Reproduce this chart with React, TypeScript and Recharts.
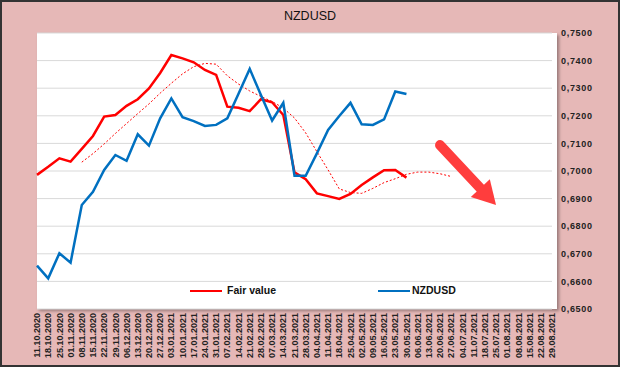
import React from 'react';
import { LineChart, Line, XAxis, YAxis, CartesianGrid, ReferenceLine } from 'recharts';

const dates = [
    '11.10.2020', '18.10.2020', '25.10.2020', '01.11.2020', '08.11.2020', '15.11.2020', '22.11.2020',
    '29.11.2020', '06.12.2020', '13.12.2020', '20.12.2020', '27.12.2020', '03.01.2021', '10.01.2021',
    '17.01.2021', '24.01.2021', '31.01.2021', '07.02.2021', '14.02.2021', '21.02.2021', '28.02.2021',
    '07.03.2021', '14.03.2021', '21.03.2021', '28.03.2021', '04.04.2021', '11.04.2021', '18.04.2021',
    '25.04.2021', '02.05.2021', '09.05.2021', '16.05.2021', '23.05.2021', '30.05.2021', '06.06.2021',
    '13.06.2021', '20.06.2021', '27.06.2021', '04.07.2021', '11.07.2021', '18.07.2021', '25.07.2021',
    '01.08.2021', '08.08.2021', '15.08.2021', '22.08.2021', '29.08.2021',
];

const fairValue = [
    0.6986, 0.7015, 0.7046, 0.7034, 0.7080, 0.7127, 0.7197, 0.7203, 0.7236, 0.7260, 0.7299, 0.7355,
    0.7420, 0.7408, 0.7394, 0.7366, 0.7348, 0.7233, 0.7229, 0.7217, 0.7260, 0.7249, 0.7203, 0.6995,
    0.6970, 0.6919, 0.6909, 0.6899, 0.6917, 0.6949, 0.6977, 0.7003, 0.7004, 0.6976,
];

const nzdusd = [
    0.6657, 0.6611, 0.6702, 0.6668, 0.6877, 0.6925, 0.7004, 0.7058, 0.7037, 0.7133, 0.7092, 0.7191,
    0.7263, 0.7195, 0.7181, 0.7163, 0.7167, 0.7191, 0.7280, 0.7370, 0.7275, 0.7183, 0.7247, 0.6983,
    0.6983, 0.7064, 0.7149, 0.7199, 0.7247, 0.7169, 0.7167, 0.7187, 0.7288, 0.7279,
];

// dotted trend of fair value (starts 08.11.2020, ends 27.06.2021)
const fairTrend = [
    null, null, null, null,
    0.7032, 0.7063, 0.7098, 0.7136, 0.7172, 0.7208, 0.7243, 0.7282, 0.7318, 0.7352, 0.7378, 0.7390,
    0.7387, 0.7345, 0.7315, 0.7290, 0.7270, 0.7252, 0.7228, 0.7192, 0.7138, 0.7070, 0.7004, 0.6935,
    0.6922, 0.6919, 0.6937, 0.6958, 0.6972, 0.6988, 0.6996, 0.6996, 0.6990, 0.6980,
];

const yTicks = [0.65, 0.66, 0.67, 0.68, 0.69, 0.70, 0.71, 0.72, 0.73, 0.74, 0.75];

const data = dates.map((d, i) => ({
    date: d,
    fair: fairValue[i] ?? null,
    nzd: nzdusd[i] ?? null,
    trend: fairTrend[i] ?? null,
}));

const DateTick = (props: any) => {
    const { x, y, payload } = props;
    return (
        <text
            x={x}
            y={y}
            dy="0.35em"
            transform={`rotate(-90, ${x}, ${y})`}
            textAnchor="end"
            fontSize={9}
            fontWeight="bold"
            fill="#222"
            fontFamily="'Liberation Sans', Arial, sans-serif"
        >
            {payload.value}
        </text>
    );
};

const Arrow = (props: any) => {
    const { x1, y1, x2, y2 } = props;
    const dx = x2 - x1;
    const dy = y2 - y1;
    const len = Math.sqrt(dx * dx + dy * dy);
    const ux = dx / len;
    const uy = dy / len;
    const headLen = 23;
    const headHalf = 13;
    const bx = x2 - ux * headLen;
    const by = y2 - uy * headLen;
    return (
        <g>
            <line x1={x1} y1={y1} x2={bx + ux * 2} y2={by + uy * 2} stroke="#ff3d3d" strokeWidth={10} strokeLinecap="round" />
            <polygon
                points={`${x2},${y2} ${bx - uy * headHalf},${by + ux * headHalf} ${bx + uy * headHalf},${by - ux * headHalf}`}
                fill="#ff3d3d"
            />
        </g>
    );
};

// legend sits inside the plot area, near the bottom
const ChartLegend = () => (
    <div style={{ position: 'absolute', left: 188, top: 281, width: 300, height: 16, fontFamily: "'Liberation Sans', Arial, sans-serif", fontSize: 10.5, fontWeight: 'bold', color: '#111' }}>
        <div style={{ position: 'absolute', left: 0, top: 7, width: 32, height: 2, background: '#ff0000' }} />
        <span style={{ position: 'absolute', left: 37, top: 1 }}>Fair value</span>
        <div style={{ position: 'absolute', left: 188, top: 7, width: 32, height: 2, background: '#0070c0' }} />
        <span style={{ position: 'absolute', left: 222, top: 1 }}>NZDUSD</span>
    </div>
);

const App: React.FC = () => {
    return (
        <div style={{ position: 'absolute', left: 0, top: 0, width: 620, height: 367, boxSizing: 'border-box', border: '2px solid #333', background: '#e6b8b7', overflow: 'hidden' }}>
            <div style={{ position: 'absolute', left: 0, top: 7, width: 616, textAlign: 'center', fontSize: 12.5, fontFamily: "'Liberation Sans', Arial, sans-serif", color: '#111' }}>
                NZDUSD
            </div>
            <div style={{ position: 'absolute', left: 35, top: 31, width: 520, height: 276, background: '#fff', boxShadow: '2px 2px 3px rgba(0,0,0,0.35)' }} />
            <div style={{ position: 'absolute', left: -2, top: -2 }}>
                <LineChart width={620} height={367} data={data} margin={{ top: 33, right: 10, bottom: 8, left: 37 }}>
                    <CartesianGrid vertical={false} stroke="#d9d9d9" />
                    <XAxis
                        dataKey="date"
                        scale="point"
                        interval={0}
                        height={50}
                        tick={<DateTick />}
                        tickSize={0}
                        tickMargin={4}
                        axisLine={false}
                        tickLine={false}
                    />
                    <YAxis
                        orientation="right"
                        domain={[0.65, 0.75]}
                        ticks={yTicks}
                        width={58}
                        axisLine={false}
                        tickLine={false}
                        tickSize={4}
                        tickMargin={5}
                        tickFormatter={(v: number) => v.toFixed(4).replace('.', ',')}
                        tick={{ fontSize: 9, fontWeight: 'bold', fill: '#222', letterSpacing: 0.7, fontFamily: "'Liberation Sans', Arial, sans-serif", textAnchor: 'start' }}
                    />
                    <Line dataKey="trend" stroke="#ff0000" strokeWidth={1} strokeDasharray="2 2" dot={false} isAnimationActive={false} legendType="none" />
                    <Line dataKey="fair" name="Fair value" stroke="#ff0000" strokeWidth={2.5} dot={false} isAnimationActive={false} />
                    <Line dataKey="nzd" name="NZDUSD" stroke="#0070c0" strokeWidth={2.5} dot={false} isAnimationActive={false} />
                    <ReferenceLine
                        segment={[{ x: '20.06.2021', y: 0.7094 }, { x: '25.07.2021', y: 0.6877 }]}
                        shape={<Arrow />}
                        ifOverflow="visible"
                    />
                </LineChart>
            </div>
            <ChartLegend />
        </div>
    );
};

export default App;
